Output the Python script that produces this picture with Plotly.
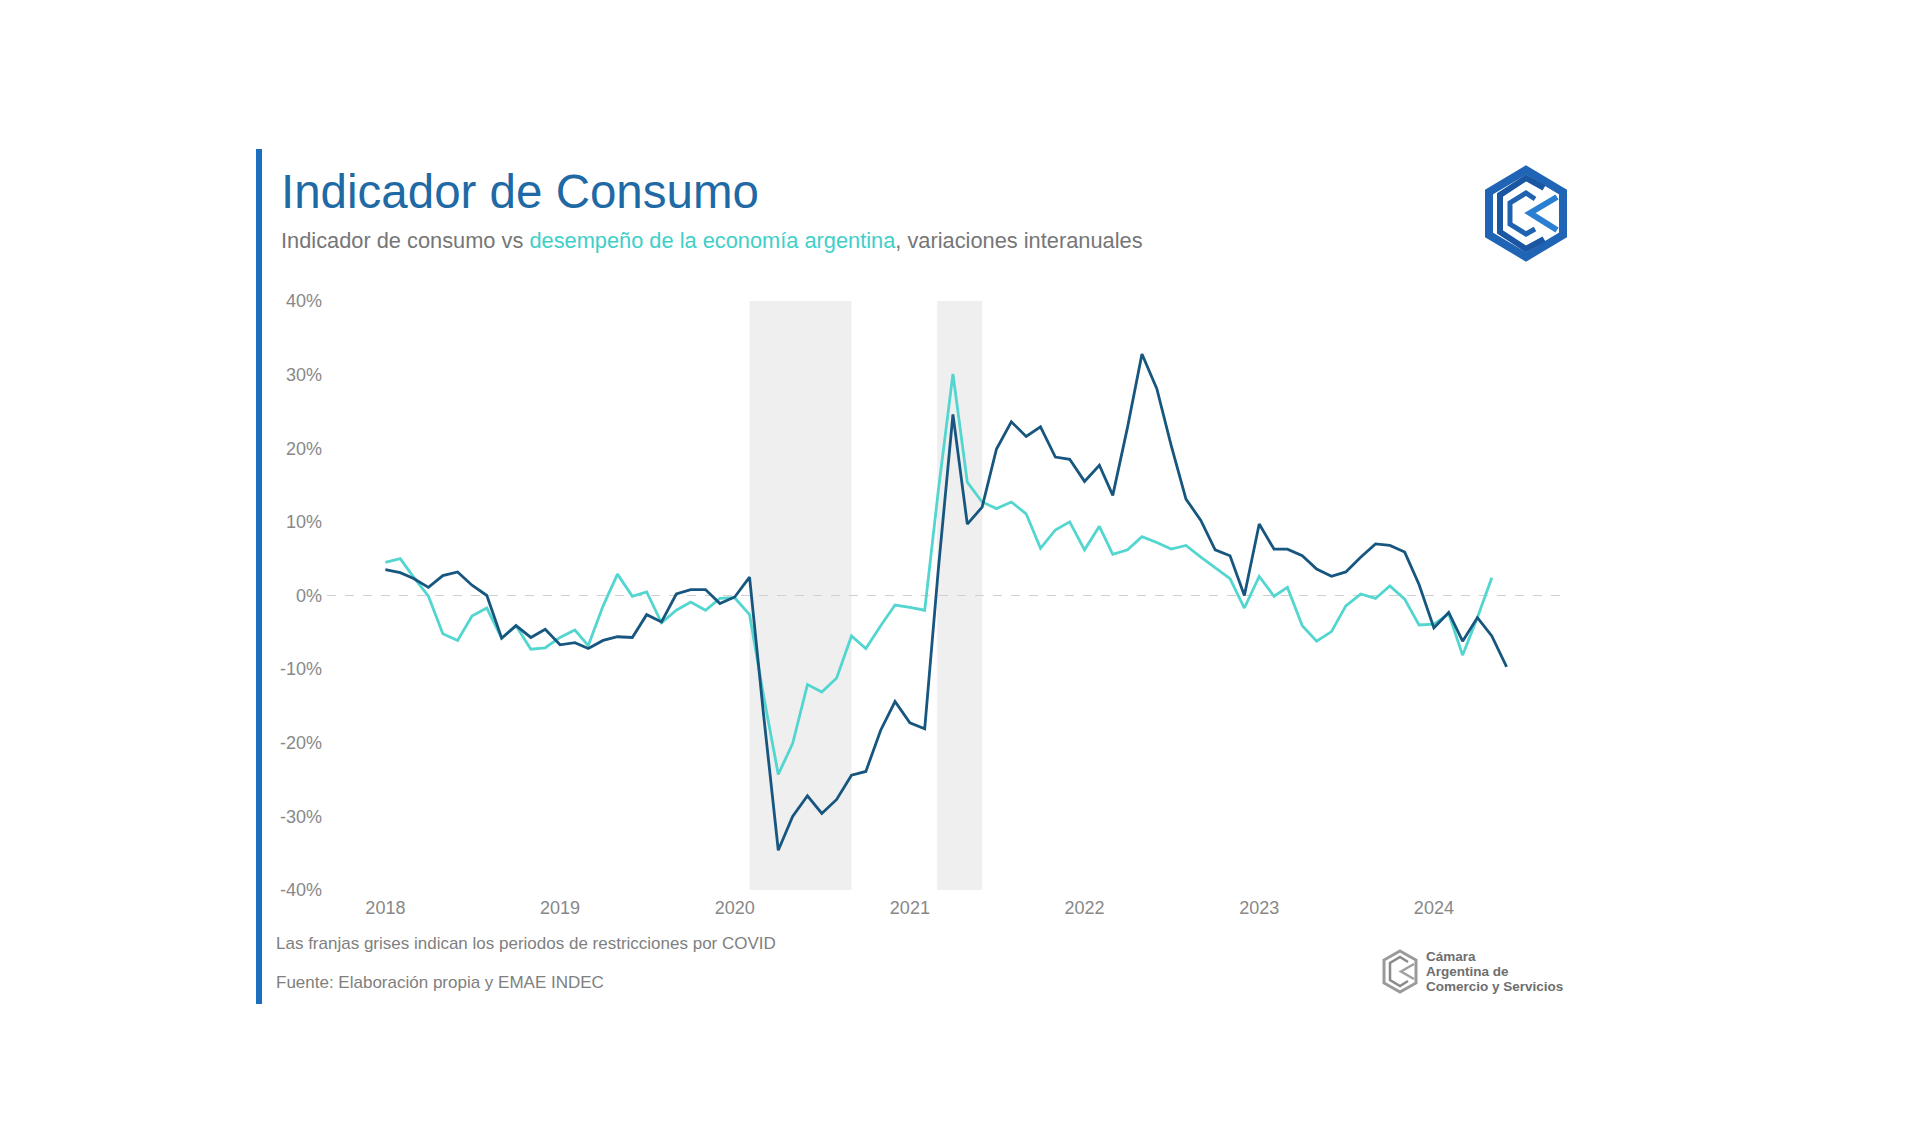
import pandas as pd
import plotly.graph_objects as go

# ---------------- data ----------------
consumo_start = "2018-01-01"
consumo = [3.5, 3.1, 2.3, 1.1, 2.7, 3.2, 1.4, 0.0, -5.8, -4.1, -5.7, -4.6,
           -6.7, -6.4, -7.2, -6.1, -5.6, -5.7, -2.6, -3.6, 0.2, 0.8, 0.8, -1.1,
           -0.2, 2.5, -16.0, -34.6, -30.0, -27.2, -29.6, -27.7, -24.4, -23.9, -18.3, -14.4,
           -17.3, -18.1, 3.2, 24.6, 9.7, 12.0, 19.9, 23.6, 21.6, 22.9, 18.8, 18.5,
           15.5, 17.7, 13.6, 22.9, 32.8, 28.1, 20.4, 13.1, 10.2, 6.2, 5.4, 0.0,
           9.7, 6.3, 6.3, 5.4, 3.6, 2.6, 3.2, 5.2, 7.0, 6.8, 5.9, 1.5,
           -4.4, -2.3, -6.2, -3.0, -5.5, -9.7]
emae = [4.5, 5.0, 2.5, -0.1, -5.2, -6.1, -2.8, -1.7, -5.8, -4.1, -7.3, -7.1,
        -5.7, -4.7, -6.8, -1.4, 2.9, -0.1, 0.5, -3.7, -2.0, -0.9, -2.0, -0.4,
        -0.3, -2.6, -13.5, -24.3, -20.1, -12.1, -13.1, -11.2, -5.5, -7.2, -4.1, -1.3,
        -1.6, -2.0, 14.0, 30.1, 15.4, 12.7, 11.8, 12.7, 11.1, 6.4, 8.9, 10.0,
        6.2, 9.4, 5.6, 6.2, 8.0, 7.2, 6.3, 6.8, 5.2, 3.8, 2.3, -1.7,
        2.6, -0.1, 1.1, -4.1, -6.2, -4.9, -1.4, 0.2, -0.4, 1.3, -0.5, -4.0,
        -3.9, -2.5, -8.1, -3.0, 2.4]
covid_periods = [("2020-02-01", "2020-09-01"), ("2021-02-27", "2021-06-01")]
year_ticks = ["2018", "2019", "2020", "2021", "2022", "2023", "2024"]
y_ticks = [40, 30, 20, 10, 0, -10, -20, -30, -40]

dates_consumo = pd.date_range(consumo_start, periods=len(consumo), freq="MS")
dates_emae = pd.date_range(consumo_start, periods=len(emae), freq="MS")

# ---------------- layout geometry (page pixels) ----------------
W_FIG, H_FIG = 1920, 1123
L, R, T, B = 327, 1565, 301, 890
PW, PH = R - L, B - T
BODY = 8  # default page body margin


def px(X):
    return (X - L) / PW


def py(Y):
    return (B - Y) / PH


def path(points, close=False):
    s = "M " + " L ".join(f"{px(x):.5f},{py(y):.5f}" for x, y in points)
    return s + (" Z" if close else "")


FONT = "Liberation Sans, Arial, sans-serif"
DARK = "#17567f"
CYAN = "#52d6cf"

fig = go.Figure()
fig.add_trace(go.Scatter(x=dates_emae, y=emae, mode="lines",
                         line=dict(color=CYAN, width=2.8), name="EMAE"))
fig.add_trace(go.Scatter(x=dates_consumo, y=consumo, mode="lines",
                         line=dict(color=DARK, width=2.8), name="Consumo"))

shapes = []
for a, b in covid_periods:
    shapes.append(dict(type="rect", xref="x", yref="paper", x0=a, x1=b, y0=0, y1=1,
                       fillcolor="#efefef", line=dict(width=0), layer="below"))
shapes.append(dict(type="line", xref="paper", yref="y", x0=0, x1=1, y0=0, y1=0,
                   line=dict(color="#d0d0d0", width=1, dash="dash"), layer="below"))
# left blue bar
shapes.append(dict(type="rect", xref="paper", yref="paper", x0=px(256), x1=px(262),
                   y0=py(1004), y1=py(149), fillcolor="#1a6fbf", line=dict(width=0)))
# top-right logo
shapes.append(dict(type="path", xref="paper", yref="paper",
                   path=path([(1526, 170), (1563, 192), (1563, 235), (1526, 257),
                              (1489, 235), (1489, 192)], close=True),
                   line=dict(color="#2064b6", width=8)))
shapes.append(dict(type="path", xref="paper", yref="paper",
                   path=path([(1544, 188), (1526, 178), (1500, 195), (1500, 232),
                              (1526, 249), (1544, 239)]),
                   line=dict(color="#1a56a2", width=6)))
shapes.append(dict(type="path", xref="paper", yref="paper",
                   path=path([(1535, 199), (1526, 193), (1510, 203), (1510, 224),
                              (1526, 234), (1535, 229)]),
                   line=dict(color="#1f62b0", width=5)))
shapes.append(dict(type="path", xref="paper", yref="paper",
                   path=path([(1557, 197), (1530, 213), (1557, 230)]),
                   line=dict(color="#2a7fd2", width=6)))
# bottom-right small logo
shapes.append(dict(type="path", xref="paper", yref="paper",
                   path=path([(1400, 951), (1416, 960), (1416, 983), (1400, 992),
                              (1384, 983), (1384, 960)], close=True),
                   line=dict(color="#9a9a9a", width=3)))
shapes.append(dict(type="path", xref="paper", yref="paper",
                   path=path([(1408, 962), (1400, 957), (1390, 963), (1390, 980),
                              (1400, 986), (1408, 981)]),
                   line=dict(color="#8a8a8a", width=2.5)))
shapes.append(dict(type="path", xref="paper", yref="paper",
                   path=path([(1414, 964), (1401, 971.5), (1414, 979)]),
                   line=dict(color="#a0a0a0", width=2.5)))

annotations = [
    dict(text="Indicador de Consumo", x=px(279), y=py(192), xref="paper", yref="paper",
         xanchor="left", yanchor="middle", showarrow=False,
         font=dict(family=FONT, size=47.5, color="#1f6aa5")),
    dict(text="Indicador de consumo vs <span style='color:#3fcfc8'>desempeño de la economía argentina</span>, variaciones interanuales",
         x=px(279), y=py(241), xref="paper", yref="paper",
         xanchor="left", yanchor="middle", showarrow=False,
         font=dict(family=FONT, size=21.8, color="#767676")),
    dict(text="Las franjas grises indican los periodos de restricciones por COVID",
         x=px(274), y=py(943), xref="paper", yref="paper",
         xanchor="left", yanchor="middle", showarrow=False,
         font=dict(family=FONT, size=17, color="#808080")),
    dict(text="Fuente: Elaboración propia y EMAE INDEC",
         x=px(274), y=py(982), xref="paper", yref="paper",
         xanchor="left", yanchor="middle", showarrow=False,
         font=dict(family=FONT, size=17, color="#808080")),
]
for txt, yy in [("Cámara", 956), ("Argentina de", 971), ("Comercio y Servicios", 986)]:
    annotations.append(dict(text=f"<b>{txt}</b>", x=px(1424), y=py(yy), xref="paper", yref="paper",
                            xanchor="left", yanchor="middle", showarrow=False,
                            font=dict(family=FONT, size=13.5, color="#6e6e6e")))

fig.update_layout(
    width=W_FIG, height=H_FIG,
    margin=dict(l=L - BODY, r=W_FIG - R + BODY, t=T - BODY, b=H_FIG - B + BODY, pad=0),
    paper_bgcolor="white", plot_bgcolor="white",
    showlegend=False,
    shapes=shapes, annotations=annotations,
    font=dict(family=FONT, color="#888888"),
)
fig.update_xaxes(
    type="date", range=["2017-09-01", "2024-10-01"],
    tickvals=[f"{y}-01-01" for y in year_ticks], ticktext=year_ticks,
    showgrid=False, zeroline=False, showline=False, ticks="",
    ticklabelstandoff=5,
    tickfont=dict(family=FONT, size=18, color="#888888"),
)
fig.update_yaxes(
    range=[-40, 40], tickvals=y_ticks, ticktext=[f"{v}%" for v in y_ticks],
    showgrid=False, zeroline=False, showline=False, ticks="",
    ticklabelstandoff=4,
    tickfont=dict(family=FONT, size=18, color="#888888"),
)

fig.write_html("out.html")
